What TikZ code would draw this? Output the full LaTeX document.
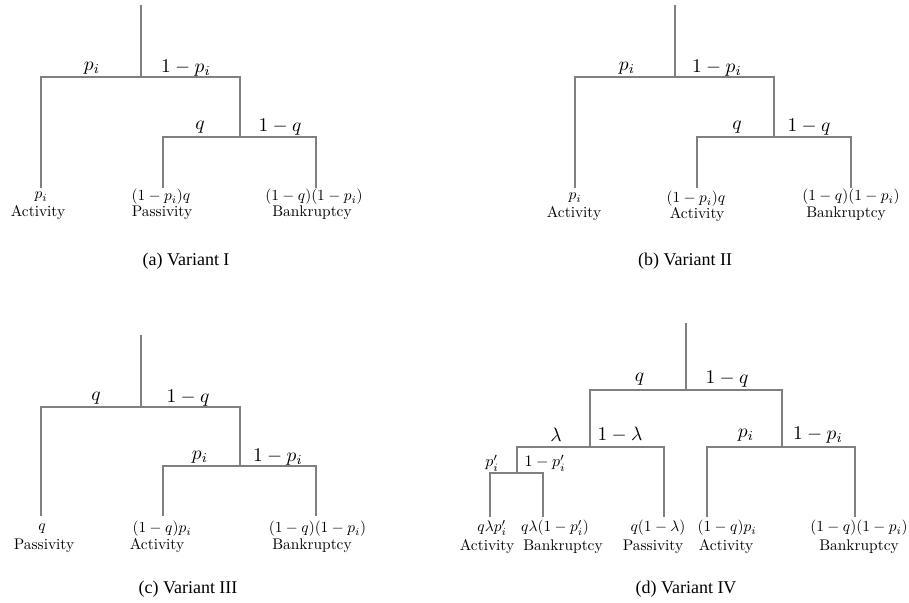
\documentclass[tikz,border=0pt]{standalone}
\usepackage{fontspec}
\newfontfamily\capfont{Liberation Serif}
\begin{document}
\begin{tikzpicture}[x=0.5pt,y=-0.5pt,
  br/.style={draw=black!50,line width=1pt},
  elab/.style={inner sep=0pt,font=\fontsize{10}{12}\selectfont,scale=0.97},
  slab/.style={inner sep=0pt,font=\fontsize{10}{12}\selectfont,scale=0.8},
  leaf/.style={inner sep=0pt,font=\fontsize{10}{12}\selectfont,scale=0.77},
  captext/.style={inner sep=0pt,font=\capfont\fontsize{9}{11}\selectfont}]
\useasboundingbox (0,0) rectangle (909,603);

% ---------- (a) ----------
\coordinate (a0) at (140.5,5);
\coordinate (a1) at (140.5,77);
\coordinate (aL) at (41,77);   \coordinate (aLb) at (41,188);
\coordinate (aR) at (240,77);  \coordinate (aRj) at (240,137);
\coordinate (aRL) at (163,137); \coordinate (aRLb) at (163,188);
\coordinate (aRR) at (316,137); \coordinate (aRRb) at (316,188);
\draw[br] (a0) -- (a1);
\draw[br] (aLb) -- (aL) -- (aR) -- (aRj);
\draw[br] (aRLb) -- (aRL) -- (aRR) -- (aRRb);
\node[elab] (ae1) at (92,68) {$p_i$};
\node[elab] (ae2) at (186,68) {$1-p_i$};
\node[elab] (ae3) at (200,127) {$q$};
\node[elab] (ae4) at (280,127) {$1-q$};
\node[leaf] (av1) at (41,197) {$p_i$};
\node[leaf] (aw1) at (38,213) {Activity};
\node[leaf] (av2) at (161,197) {$(1-p_i)q$};
\node[leaf] (aw2) at (162,213) {Passivity};
\node[leaf] (av3) at (314,197) {$(1-q)(1-p_i)$};
\node[leaf] (aw3) at (312,213) {Bankruptcy};
\node[captext] (acap) at (186,261) {(a) Variant I};

% ---------- (b) ----------
\coordinate (b0) at (674.5,5);
\coordinate (b1) at (674.5,77.5);
\coordinate (bL) at (575,77.5);   \coordinate (bLb) at (575,188);
\coordinate (bR) at (774,77.5);   \coordinate (bRj) at (774,137);
\coordinate (bRL) at (697,137);   \coordinate (bRLb) at (697,188);
\coordinate (bRR) at (850.5,137); \coordinate (bRRb) at (850.5,188);
\draw[br] (b0) -- (b1);
\draw[br] (bLb) -- (bL) -- (bR) -- (bRj);
\draw[br] (bRLb) -- (bRL) -- (bRR) -- (bRRb);
\node[elab] (be1) at (627,68) {$p_i$};
\node[elab] (be2) at (717,68) {$1-p_i$};
\node[elab] (be3) at (737,127) {$q$};
\node[elab] (be4) at (809,127) {$1-q$};
\node[leaf] (bv1) at (575,198) {$p_i$};
\node[leaf] (bw1) at (574,214) {Activity};
\node[leaf] (bv2) at (696,199) {$(1-p_i)q$};
\node[leaf] (bw2) at (697,215) {Activity};
\node[leaf] (bv3) at (851,197) {$(1-q)(1-p_i)$};
\node[leaf] (bw3) at (846,214) {Bankruptcy};
\node[captext] (bcap) at (685,261) {(b) Variant II};

% ---------- (c) ----------
\coordinate (c0) at (140.5,335);
\coordinate (c1) at (140.5,407);
\coordinate (cL) at (41,407);    \coordinate (cLb) at (41,516);
\coordinate (cR) at (240,407);   \coordinate (cRj) at (240,466);
\coordinate (cRL) at (163,466);  \coordinate (cRLb) at (163,516);
\coordinate (cRR) at (316,466);  \coordinate (cRRb) at (316,516);
\draw[br] (c0) -- (c1);
\draw[br] (cLb) -- (cL) -- (cR) -- (cRj);
\draw[br] (cRLb) -- (cRL) -- (cRR) -- (cRRb);
\node[elab] (ce1) at (96,398) {$q$};
\node[elab] (ce2) at (188,398) {$1-q$};
\node[elab] (ce3) at (200,457) {$p_i$};
\node[elab] (ce4) at (278,457) {$1-p_i$};
\node[leaf] (cv1) at (42,529) {$q$};
\node[leaf] (cw1) at (44,545.5) {Passivity};
\node[leaf] (cv2) at (162,529) {$(1-q)p_i$};
\node[leaf] (cw2) at (157,545.5) {Activity};
\node[leaf] (cv3) at (317.5,529) {$(1-q)(1-p_i)$};
\node[leaf] (cw3) at (312,545.5) {Bankruptcy};
\node[captext] (ccap) at (188,589) {(c) Variant III};

% ---------- (d) ----------
\coordinate (d0) at (686,323);
\coordinate (d1) at (686,390);
\coordinate (dL) at (590,390);   \coordinate (dLj) at (590,446.7);
\coordinate (dR) at (781.7,390); \coordinate (dRj) at (781.7,446.7);
\coordinate (dLL) at (516.7,446.7); \coordinate (dLLj) at (516.7,472.7);
\coordinate (dLR) at (664,446.7);   \coordinate (dLRb) at (664,517.3);
\coordinate (dLLL) at (490,472.7);  \coordinate (dLLLb) at (490,517.3);
\coordinate (dLLR) at (542.7,472.7); \coordinate (dLLRb) at (542.7,517.3);
\coordinate (dRL) at (707.3,446.7); \coordinate (dRLb) at (707.3,517.3);
\coordinate (dRR) at (855,446.7);   \coordinate (dRRb) at (855,517.3);
\draw[br] (d0) -- (d1);
\draw[br] (dLj) -- (dL) -- (dR) -- (dRj);
\draw[br] (dLLj) -- (dLL) -- (dLR) -- (dLRb);
\draw[br] (dLLLb) -- (dLLL) -- (dLLR) -- (dLLRb);
\draw[br] (dRLb) -- (dRL) -- (dRR) -- (dRRb);
\node[elab] (de1) at (639.5,379) {$q$};
\node[elab] (de2) at (727,379) {$1-q$};
\node[elab] (de3) at (556,435) {$\lambda$};
\node[elab] (de4) at (620,435) {$1-\lambda$};
\node[elab] (de5) at (746,435) {$p_i$};
\node[elab] (de6) at (818,435) {$1-p_i$};
\node[slab] (de7) at (492,463) {$p_i'$};
\node[slab] (de8) at (545,463) {$1-p_i'$};
\node[leaf] (dv1) at (492,528) {$q\lambda p_i'$};
\node[leaf] (dw1) at (487,546.5) {Activity};
\node[leaf] (dv2) at (555,528) {$q\lambda(1-p_i')$};
\node[leaf] (dw2) at (563,546.5) {Bankruptcy};
\node[leaf] (dv3) at (658,528) {$q(1-\lambda)$};
\node[leaf] (dw3) at (653,546.5) {Passivity};
\node[leaf] (dv4) at (727,528) {$(1-q)p_i$};
\node[leaf] (dw4) at (726,546.5) {Activity};
\node[leaf] (dv5) at (859,528) {$(1-q)(1-p_i)$};
\node[leaf] (dw5) at (859,546.5) {Bankruptcy};
\node[captext] (dcap) at (686,589) {(d) Variant IV};
\end{tikzpicture}
\end{document}
